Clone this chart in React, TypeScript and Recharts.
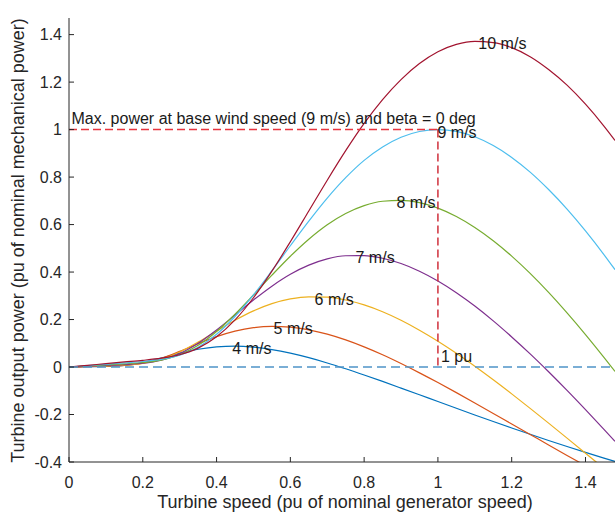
import { Label, Line, LineChart, ReferenceDot, ReferenceLine, XAxis, YAxis } from 'recharts';

// turbine speed (pu of nominal generator speed)
const speeds = [
  0, 0.05, 0.1, 0.15, 0.2, 0.25, 0.3, 0.35, 0.4, 0.45, 0.5, 0.55, 0.6, 0.65, 0.7, 0.75,
  0.8, 0.85, 0.9, 0.95, 1.0, 1.05, 1.1, 1.15, 1.2, 1.25, 1.3, 1.35, 1.4, 1.45, 1.48,
];

// turbine output power (pu) per wind speed
const power4 = [
  0, 0.0011, 0.0024, 0.0064, 0.0187, 0.0379, 0.0583, 0.0749, 0.085, 0.0878, 0.0837, 0.0735,
  0.0584, 0.0393, 0.0171, -0.0074, -0.0335, -0.0607, -0.0887, -0.117, -0.1454, -0.1737,
  -0.2018, -0.2295, -0.2566, -0.2832, -0.3093, -0.3347, -0.3594, -0.3836, -0.3978,
];
const power5 = [
  0, 0.0018, 0.0035, 0.0065, 0.0159, 0.0365, 0.0659, 0.0983, 0.1282, 0.1513, 0.166, 0.1714,
  0.1681, 0.1566, 0.1384, 0.1141, 0.0847, 0.0514, 0.0146, -0.0245, -0.0654, -0.1079,
  -0.1512, -0.1953, -0.2398, -0.284, -0.3283, -0.3722, -0.4157, -0.4589, -0.4843,
];
const power6 = [
  0, 0.0026, 0.0051, 0.008, 0.0148, 0.032, 0.063, 0.1049, 0.1514, 0.1968, 0.2363, 0.2668,
  0.2868, 0.2957, 0.2941, 0.2823, 0.2615, 0.2328, 0.1971, 0.1552, 0.1086, 0.0577, 0.0032,
  -0.0538, -0.1131, -0.1741, -0.2363, -0.2994, -0.363, -0.4269, -0.4652,
];
const power7 = [
  0, 0.0035, 0.0069, 0.0105, 0.0159, 0.0291, 0.0566, 0.1001, 0.1563, 0.2189, 0.2823, 0.3407,
  0.3907, 0.4291, 0.4554, 0.4686, 0.4693, 0.4582, 0.4359, 0.4036, 0.3623, 0.313, 0.2568,
  0.1944, 0.1267, 0.0553, -0.0201, -0.0986, -0.1796, -0.2623, -0.3128,
];
const power8 = [
  0, 0.0045, 0.0091, 0.0136, 0.019, 0.0292, 0.0515, 0.0914, 0.1494, 0.2221, 0.3033, 0.3867,
  0.4665, 0.5383, 0.5992, 0.6466, 0.6798, 0.6981, 0.702, 0.6922, 0.6693, 0.634, 0.5878,
  0.532, 0.4672, 0.3943, 0.3144, 0.2281, 0.1368, 0.0408, -0.0186,
];
const power9 = [
  0, 0.0057, 0.0115, 0.0172, 0.0233, 0.0321, 0.0498, 0.0836, 0.1381, 0.2127, 0.304, 0.4056,
  0.5108, 0.6144, 0.7115, 0.7975, 0.8704, 0.9269, 0.9679, 0.9921, 1.0, 0.9925, 0.9696,
  0.9327, 0.8827, 0.8208, 0.7475, 0.6652, 0.5735, 0.4738, 0.4102,
];
const power10 = [
  0, 0.0071, 0.0142, 0.0213, 0.0283, 0.0372, 0.0517, 0.0795, 0.1272, 0.1983, 0.2918, 0.4038,
  0.5275, 0.657, 0.7867, 0.9111, 1.0259, 1.1263, 1.2106, 1.278, 1.3277, 1.3586, 1.3715,
  1.3666, 1.3452, 1.3071, 1.2531, 1.1871, 1.1071, 1.0151, 0.9545,
];

// curve labels sit at each curve's maximum
const windLabels = ['4 m/s', '5 m/s', '6 m/s', '7 m/s', '8 m/s', '9 m/s', '10 m/s'];
const peakSpeeds = [0.444, 0.556, 0.667, 0.778, 0.889, 1.0, 1.111];
const peakPowers = [0.088, 0.171, 0.296, 0.471, 0.702, 1.0, 1.372];

const xTicks = [0, 0.2, 0.4, 0.6, 0.8, 1, 1.2, 1.4];
const yTicks = [-0.4, -0.2, 0, 0.2, 0.4, 0.6, 0.8, 1, 1.2, 1.4];

const baseSpeed = 1;
const basePower = 1;

const series = [
  { key: 'v4', values: power4, color: '#0072BD' },
  { key: 'v5', values: power5, color: '#D95319' },
  { key: 'v6', values: power6, color: '#EDB120' },
  { key: 'v7', values: power7, color: '#7E2F8E' },
  { key: 'v8', values: power8, color: '#77AC30' },
  { key: 'v9', values: power9, color: '#4DBEEE' },
  { key: 'v10', values: power10, color: '#A2142F' },
];

const rows = speeds.map((s, i) => {
  const row: Record<string, number> = { speed: s };
  series.forEach((sr) => {
    row[sr.key] = sr.values[i];
  });
  return row;
});

const FONT = '"Liberation Sans", Arial, Helvetica, sans-serif';
const INK = '#262626';

function PointText({ viewBox, text, dx, dy }: any) {
  if (!viewBox) return null;
  return (
    <text x={viewBox.x + dx} y={viewBox.y + dy} fill="#1a1a1a" fontSize={16} fontFamily={FONT}>
      {text}
    </text>
  );
}

export default function App() {
  return (
    <div style={{ position: 'absolute', left: 0, top: 0, background: '#fff' }}>
      <LineChart
        width={616}
        height={515}
        data={rows}
        margin={{ top: 18, right: 1, bottom: 0, left: 0 }}
      >
        <XAxis
          dataKey="speed"
          type="number"
          domain={[0, 1.48]}
          ticks={xTicks}
          allowDataOverflow
          height={53}
          stroke={INK}
          tickSize={-5}
          tickMargin={20}
          tick={{ fill: INK, fontSize: 16, fontFamily: FONT }}
        >
          <Label
            content={() => (
              <text x={345} y={508} textAnchor="middle" fill={INK} fontSize={18} fontFamily={FONT}>
                Turbine speed (pu of nominal generator speed)
              </text>
            )}
          />
        </XAxis>
        <XAxis
          xAxisId="top"
          orientation="top"
          dataKey="speed"
          type="number"
          domain={[0, 1.48]}
          ticks={xTicks}
          allowDataOverflow
          height={0}
          stroke={INK}
          tickSize={-5}
          tickFormatter={() => ''}
        />
        <YAxis
          type="number"
          domain={[-0.4, 1.47]}
          ticks={yTicks}
          allowDataOverflow
          width={69}
          stroke={INK}
          tickSize={-5}
          tickMargin={12}
          tick={{ fill: INK, fontSize: 16, fontFamily: FONT }}
        >
          <Label
            content={() => (
              <text
                transform="translate(24,240.5) rotate(-90)"
                textAnchor="middle"
                fill={INK}
                fontSize={18}
                fontFamily={FONT}
              >
                Turbine output power (pu of nominal mechanical power)
              </text>
            )}
          />
        </YAxis>
        <YAxis
          yAxisId="right"
          orientation="right"
          type="number"
          domain={[-0.4, 1.47]}
          ticks={yTicks}
          allowDataOverflow
          width={0}
          stroke={INK}
          tickSize={-5}
          tickFormatter={() => ''}
        />

        {series.map((sr) => (
          <Line
            key={sr.key}
            dataKey={sr.key}
            type="monotone"
            stroke={sr.color}
            strokeWidth={1.2}
            dot={false}
            activeDot={false}
            isAnimationActive={false}
          />
        ))}

        <ReferenceLine
          segment={[
            { x: 0, y: 0 },
            { x: 1.48, y: 0 },
          ]}
          stroke="#4F94C8"
          strokeWidth={1.6}
          strokeDasharray="9 5"
        />
        <ReferenceLine
          segment={[
            { x: 0, y: basePower },
            { x: baseSpeed, y: basePower },
          ]}
          stroke="#E8353F"
          strokeWidth={1.5}
          strokeDasharray="8 4"
        />
        <ReferenceLine
          segment={[
            { x: baseSpeed, y: basePower },
            { x: baseSpeed, y: 0 },
          ]}
          stroke="#D0303C"
          strokeWidth={1.5}
          strokeDasharray="8 4"
        />

        <ReferenceDot
          x={0}
          y={basePower}
          r={0}
          fill="none"
          stroke="none"
          label={{
            content: (p: any) => (
              <PointText viewBox={p.viewBox} dx={2.5} dy={-6} text="Max. power at base wind speed (9 m/s) and beta = 0 deg" />
            ),
          }}
        />
        <ReferenceDot
          x={baseSpeed}
          y={0}
          r={0}
          fill="none"
          stroke="none"
          label={{
            content: (p: any) => <PointText viewBox={p.viewBox} dx={3} dy={-5} text="1 pu" />,
          }}
        />
        {windLabels.map((w, i) => (
          <ReferenceDot
            key={w}
            x={peakSpeeds[i]}
            y={peakPowers[i]}
            r={0}
            fill="none"
            stroke="none"
            label={{
              content: (p: any) => <PointText viewBox={p.viewBox} dx={-0.5} dy={8} text={w} />,
            }}
          />
        ))}
      </LineChart>
    </div>
  );
}
